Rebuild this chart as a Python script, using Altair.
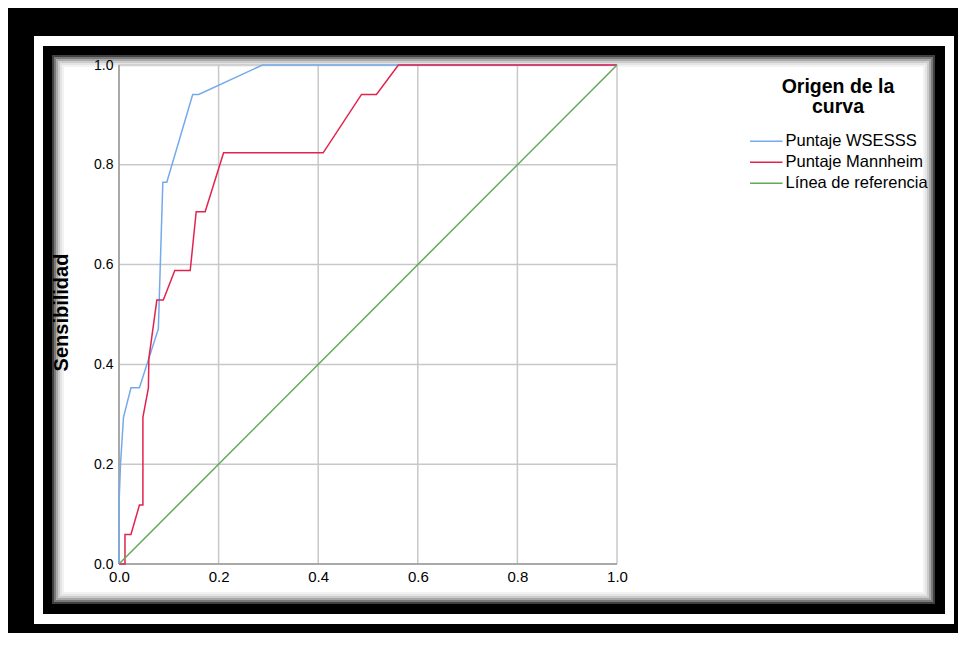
import altair as alt
import pandas as pd

# ---------------- data ----------------
series_names = ["Puntaje WSESSS", "Puntaje Mannheim", "Línea de referencia"]
series_colors = ["#74aaec", "#e2234d", "#63a85b"]

wsesss_fpr = [0.0, 0.0, 0.003, 0.009, 0.024, 0.041, 0.079, 0.088, 0.096, 0.148, 0.160, 0.288, 1.0]
wsesss_tpr = [0.0, 0.118, 0.200, 0.294, 0.353, 0.353, 0.471, 0.765, 0.765, 0.941, 0.941, 1.0, 1.0]

mannheim_fpr = [0.0, 0.012, 0.012, 0.024, 0.041, 0.048, 0.048, 0.059, 0.060, 0.076, 0.089,
                0.112, 0.143, 0.155, 0.173, 0.210, 0.410, 0.487, 0.517, 0.561, 1.0]
mannheim_tpr = [0.0, 0.0, 0.059, 0.059, 0.118, 0.118, 0.294, 0.353, 0.412, 0.529, 0.529,
                0.588, 0.588, 0.706, 0.706, 0.824, 0.824, 0.941, 0.941, 1.0, 1.0]

ref_fpr = [0.0, 1.0]
ref_tpr = [0.0, 1.0]

tick_values = [0.0, 0.2, 0.4, 0.6, 0.8, 1.0]
legend_title = ["Origen de la", "curva"]

rows = []
for name, xs, ys in [(series_names[0], wsesss_fpr, wsesss_tpr),
                     (series_names[1], mannheim_fpr, mannheim_tpr),
                     (series_names[2], ref_fpr, ref_tpr)]:
    for i, (a, b) in enumerate(zip(xs, ys)):
        rows.append({"serie": name, "fpr": a, "tpr": b, "orden": i})
df = pd.DataFrame(rows)
grid_df = pd.DataFrame({"fpr": tick_values, "tpr": tick_values})
one = pd.DataFrame({"k": [0]})

# ---------------- layout ----------------
PW, PH = 498, 499
PAD = {"left": 111, "top": 57, "right": 341, "bottom": 69}


def frame(x0, y0, x1, y1, color):
    return alt.Chart(one).mark_rect(fill=color).encode(
        x=alt.value(x0), x2=alt.value(x1), y=alt.value(y0), y2=alt.value(y1)
    )


layers = [
    frame(-85, -29, 835, 559, "white"),
    frame(-76, -19, 826, 549, "black"),
]
grad = ["#404040", "#7a7a7a", "#a8a8a8", "#cccccc", "#e4e4e4", "#f2f2f2", "#ffffff"]
for i, c in enumerate(grad):
    d = 2 * i
    layers.append(frame(-67 + d, -10 + d, 816 - d, 539 - d, c))

xs_scale = alt.Scale(domain=[0, 1], nice=False, zero=False)
ys_scale = alt.Scale(domain=[0, 1], nice=False, zero=False)

ax_x = alt.Axis(values=tick_values, format=".1f", title=None, grid=False,
                domain=False, ticks=False, tickSize=0, labelFlush=False,
                labelFont="Liberation Sans", labelFontSize=15,
                labelColor="black", labelPadding=5, zindex=1)
ax_y = alt.Axis(values=tick_values, format=".1f", title="Sensibilidad",
                grid=False, domain=False, ticks=False, tickSize=0, labelFlush=False,
                labelFont="Liberation Sans", labelFontSize=14,
                labelColor="black", labelPadding=6,
                titleFont="Liberation Sans", titleFontSize=20,
                titleFontWeight="bold", titleColor="black",
                titleAngle=270, titleBaseline="alphabetic", titleAlign="center",
                titleX=-52, titleY=247, zindex=1)

X = alt.X("fpr:Q", scale=xs_scale, axis=ax_x)
Y = alt.Y("tpr:Q", scale=ys_scale, axis=ax_y)

gx = alt.Chart(grid_df).mark_rule(color="#c8c8c8", strokeWidth=1.5).encode(x=X)
gy = alt.Chart(grid_df).mark_rule(color="#c8c8c8", strokeWidth=1.5).encode(y=Y)
dx = alt.Chart(grid_df).transform_filter("datum.fpr == 0").mark_rule(
    color="#9a9a9a", strokeWidth=1.5).encode(x=X)
dy = alt.Chart(grid_df).transform_filter("datum.tpr == 0").mark_rule(
    color="#9a9a9a", strokeWidth=1.5).encode(y=Y)

lines = alt.Chart(df).mark_line(strokeWidth=1.5).encode(
    x=X,
    y=Y,
    color=alt.Color("serie:N",
                    scale=alt.Scale(domain=series_names, range=series_colors),
                    legend=alt.Legend(title=None, orient="none",
                                      legendX=639, legendY=68, padding=0,
                                      labelFont="Liberation Sans", labelFontSize=16.5,
                                      labelColor="black", labelOffset=11,
                                      labelLimit=300,
                                      symbolType="M-2.5,0H2.5", symbolSize=169,
                                      symbolStrokeWidth=1.5, rowPadding=4,
                                      zindex=1)),
    order=alt.Order("orden:Q"),
)

legend_heading = alt.Chart(one).mark_text(
    font="Liberation Sans", fontSize=19.5, fontWeight="bold", color="black",
    align="center", baseline="top", lineHeight=20,
).encode(x=alt.value(719), y=alt.value(13), text=alt.value(legend_title))

layers += [gx, gy, dx, dy, lines, legend_heading]

chart = alt.layer(*layers).properties(
    width=PW, height=PH, padding=PAD,
    autosize=alt.AutoSizeParams(type="none"),
    background="black",
).configure_view(strokeWidth=0)

chart.save("out.html", embed_options={"renderer": "svg", "actions": False})
